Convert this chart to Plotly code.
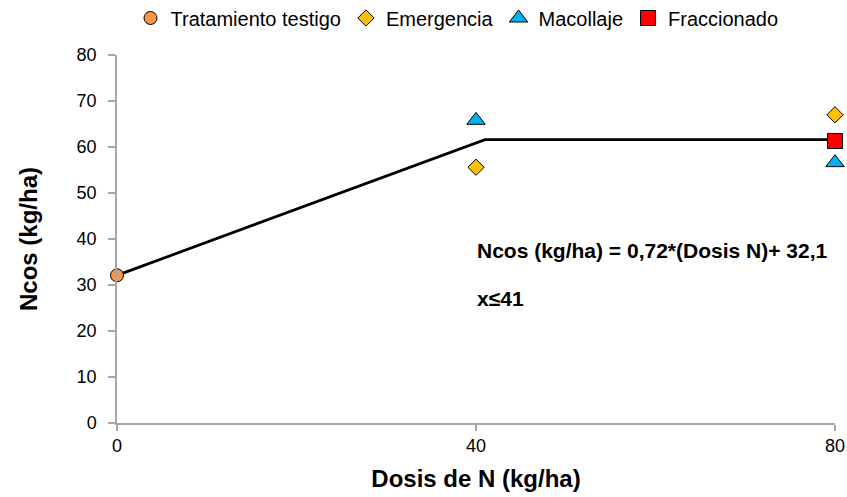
import plotly.graph_objects as go

# Data
testigo_x = [0]
testigo_y = [32.1]
emergencia_x = [40, 80]
emergencia_y = [55.6, 67.0]
macollaje_x = [40, 80]
macollaje_y = [65.8, 56.6]
fraccionado_x = [80]
fraccionado_y = [61.3]
fit_x = [0, 41, 80]
fit_y = [32.1, 61.6, 61.6]
x_ticks = [0, 40, 80]
y_ticks = [0, 10, 20, 30, 40, 50, 60, 70, 80]

FONT = "Liberation Sans, Arial, sans-serif"
L, R, T, B = 117, 835, 55, 423
W, H = 847, 497

fig = go.Figure()
fig.add_trace(go.Scatter(x=fit_x, y=fit_y, mode="lines", line=dict(color="black", width=2.75),
                         showlegend=False, hoverinfo="skip", cliponaxis=False))
fig.add_trace(go.Scatter(x=testigo_x, y=testigo_y, mode="markers", name="Tratamiento testigo",
                         marker=dict(symbol="circle", size=13, color="#F79646", line=dict(color="black", width=1)),
                         cliponaxis=False))
fig.add_trace(go.Scatter(x=emergencia_x, y=emergencia_y, mode="markers", name="Emergencia",
                         marker=dict(symbol="diamond", size=12.5, color="#FFC000", line=dict(color="black", width=1)),
                         cliponaxis=False))
fig.add_trace(go.Scatter(x=macollaje_x, y=macollaje_y, mode="markers", name="Macollaje",
                         marker=dict(symbol="triangle-up", size=16, color="#00B0F0", line=dict(color="black", width=1)),
                         cliponaxis=False))
fig.add_trace(go.Scatter(x=fraccionado_x, y=fraccionado_y, mode="markers", name="Fraccionado",
                         marker=dict(symbol="square", size=15, color="#FF0000", line=dict(color="black", width=1)),
                         cliponaxis=False))

fig.add_annotation(text="<b>Ncos (kg/ha) = 0,72*(Dosis N)+ 32,1</b>", xref="paper", yref="paper",
                   x=(475 - L) / (R - L), y=(B - 250) / (B - T), xanchor="left", yanchor="middle",
                   showarrow=False, font=dict(family=FONT, size=21, color="black"))
fig.add_annotation(text="<b>x≤41</b>", xref="paper", yref="paper",
                   x=(475 - L) / (R - L), y=(B - 298) / (B - T), xanchor="left", yanchor="middle",
                   showarrow=False, font=dict(family=FONT, size=21, color="black"))

fig.update_layout(
    width=W, height=H,
    margin=dict(l=L, r=W - R, t=T, b=H - B, autoexpand=False),
    plot_bgcolor="white", paper_bgcolor="white",
    font=dict(family=FONT, size=18, color="black"),
    legend=dict(orientation="h", x=(457 - L) / (R - L), xanchor="center",
                y=(B - 18) / (B - T), yanchor="middle",
                font=dict(family=FONT, size=20), itemwidth=30,
                tracegroupgap=0, bgcolor="rgba(0,0,0,0)"),
    xaxis=dict(range=[0, 80], tickvals=x_ticks, showgrid=False, zeroline=False,
               showline=True, linecolor="#A6A6A6", linewidth=1.5,
               ticks="outside", ticklen=6, tickcolor="#A6A6A6", tickwidth=1.5,
               tickfont=dict(size=18), automargin=False,
               title=dict(text="<b>Dosis de N (kg/ha)</b>", font=dict(size=24), standoff=15)),
    yaxis=dict(range=[0, 80], tickvals=y_ticks, showgrid=False, zeroline=False,
               showline=True, linecolor="#A6A6A6", linewidth=1.5,
               ticks="outside", ticklen=7, tickcolor="#A6A6A6", tickwidth=1.5,
               tickfont=dict(size=18), automargin=False, ticklabelstandoff=8,
               title=dict(text="<b>Ncos (kg/ha)</b>", font=dict(size=24), standoff=32)),
)
fig.write_html("out.html", config={"displayModeBar": False},
               post_script="document.body.style.margin='0';")
